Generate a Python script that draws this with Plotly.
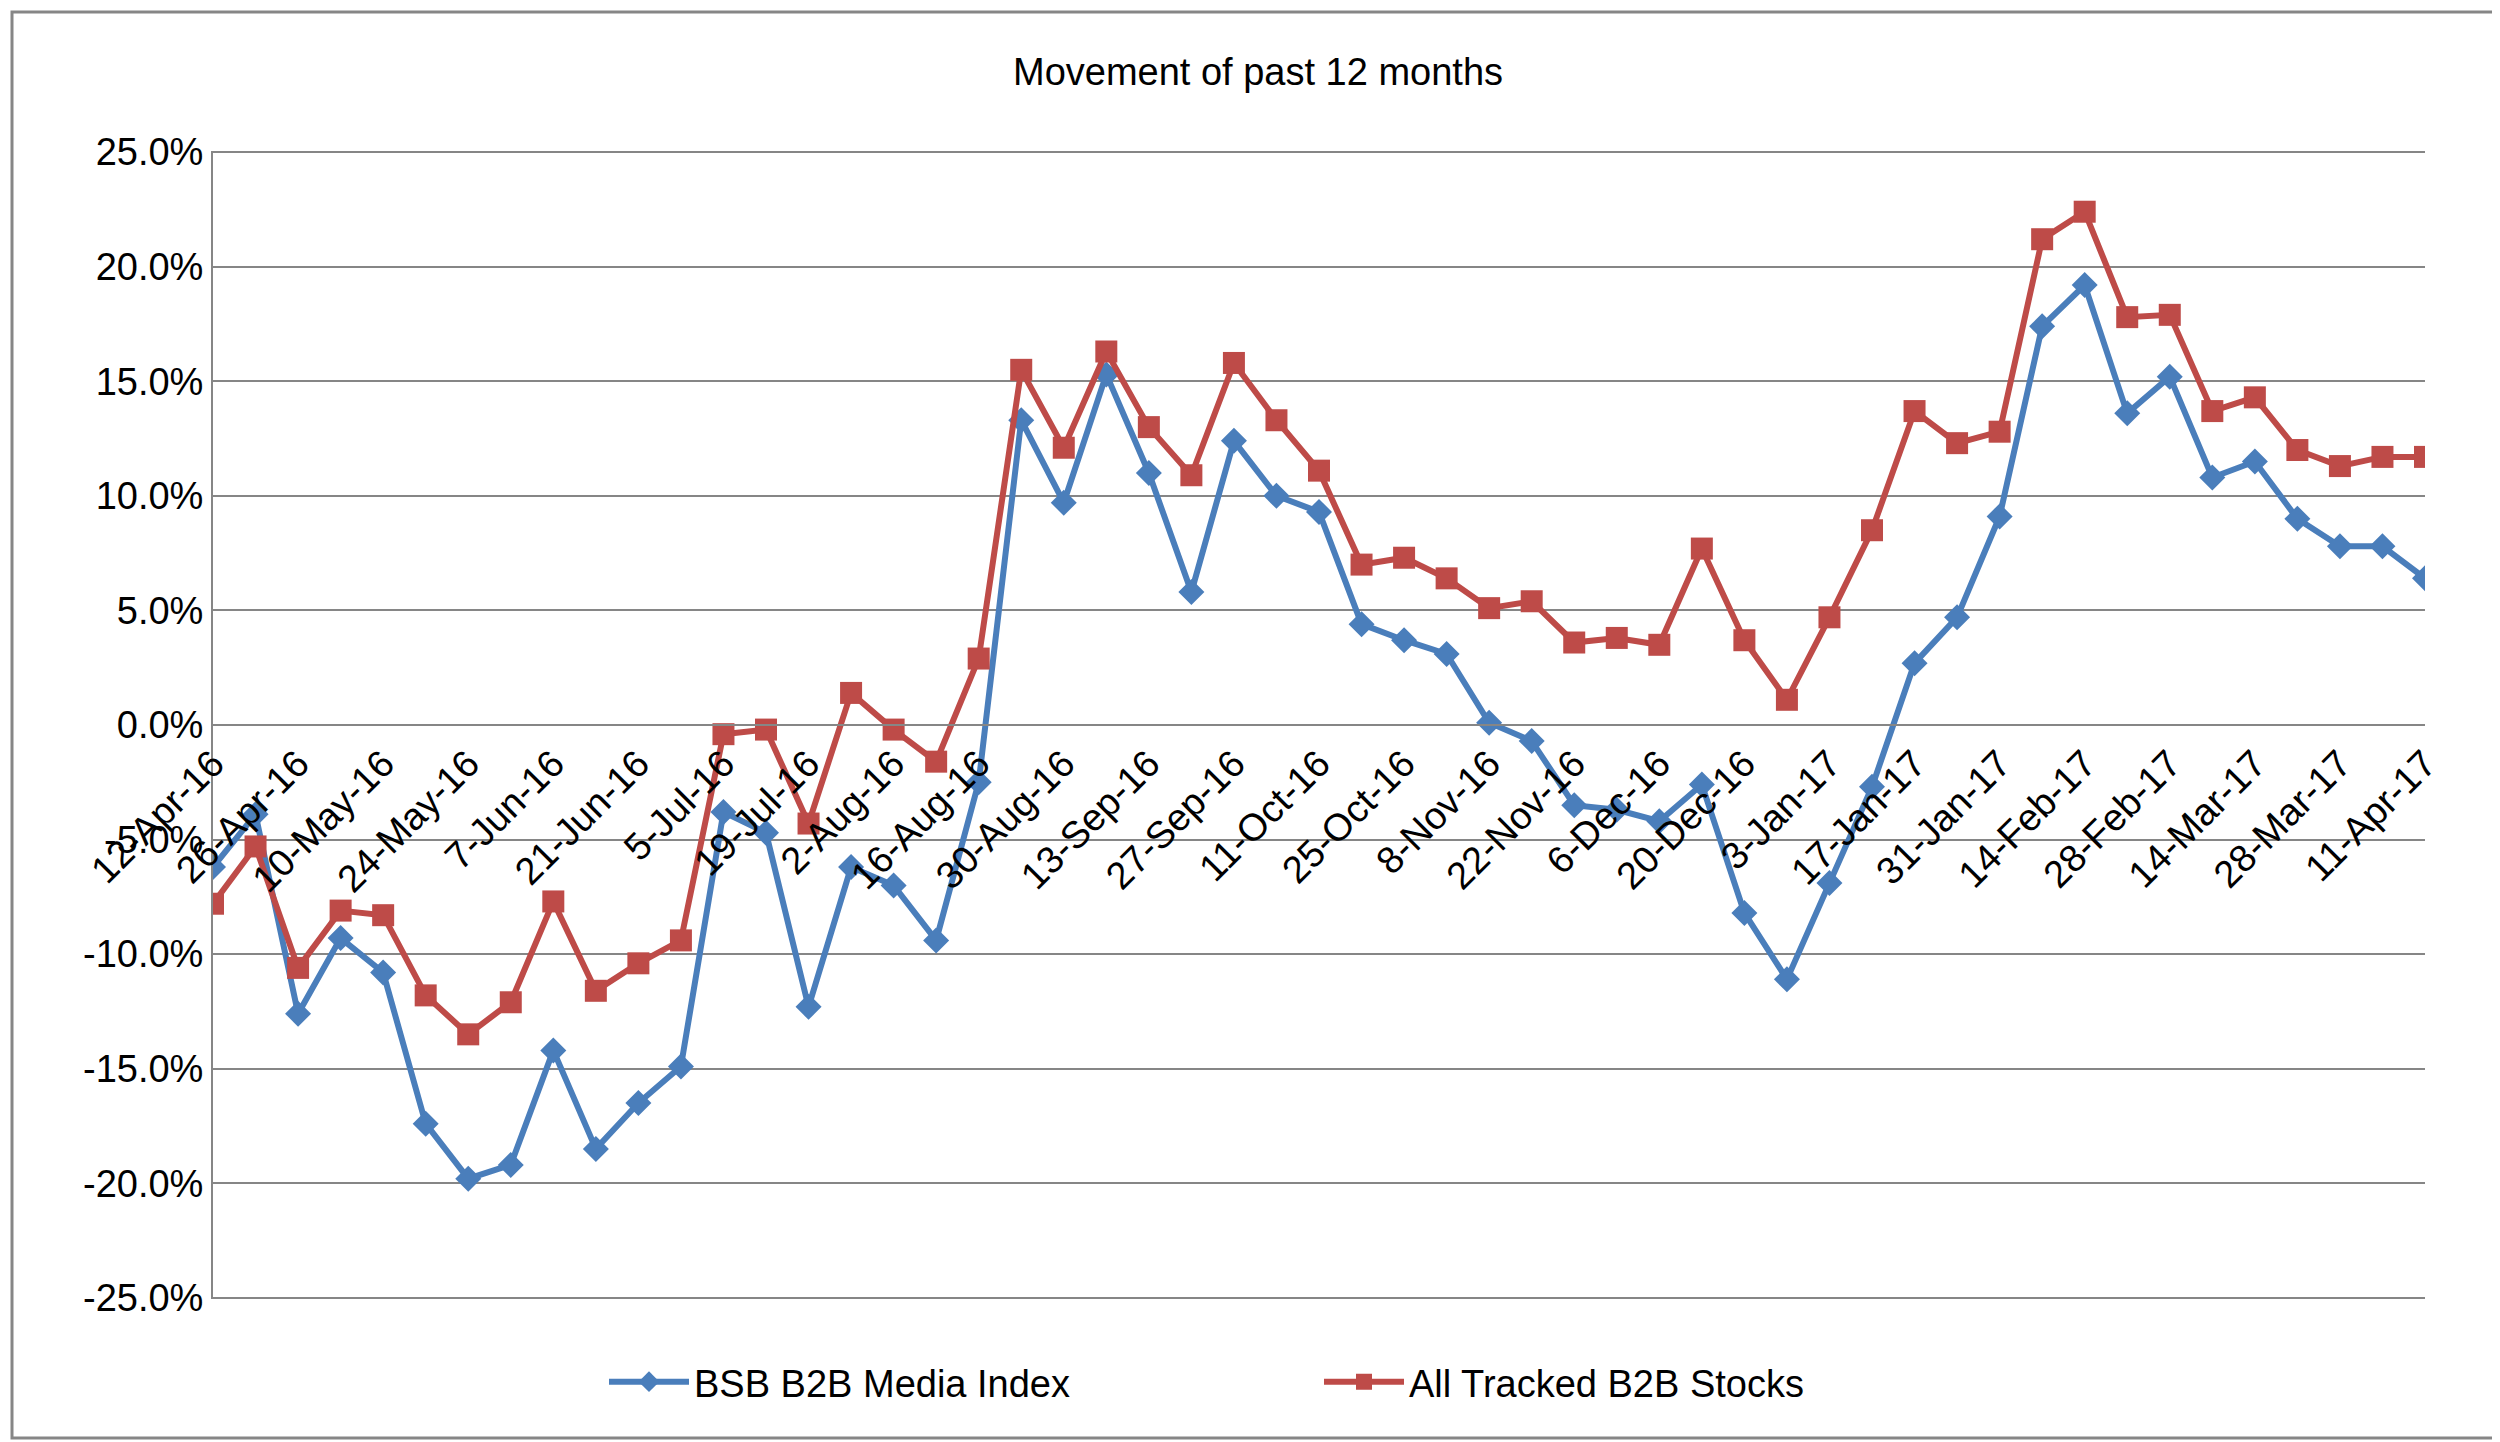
import plotly.graph_objects as go
import datetime as dt

start = dt.date(2016, 4, 12)
dates = [start + dt.timedelta(weeks=i) for i in range(53)]
labels = [f"{d.day}-{d.strftime('%b')}-{d.strftime('%y')}" for d in dates]

bsb = [-6.2,-3.9,-12.6,-9.3,-10.8,-17.4,-19.8,-19.2,-14.2,-18.5,-16.5,-14.9,-3.8,-4.7,-12.3,-6.2,-7.0,-9.4,-2.5,
       13.3,9.7,15.3,11.0,5.8,12.4,10.0,9.3,4.4,3.7,3.1,0.1,-0.7,-3.5,-3.7,-4.2,-2.6,-8.2,-11.1,-6.9,-2.7,2.7,4.7,9.1,
       17.4,19.2,13.6,15.2,10.8,11.5,9.0,7.8,7.8,6.4]
allb = [-7.8,-5.3,-10.6,-8.1,-8.3,-11.8,-13.5,-12.1,-7.7,-11.6,-10.4,-9.4,-0.4,-0.2,-4.3,1.4,-0.2,-1.6,2.9,
        15.5,12.1,16.3,13.0,10.9,15.8,13.3,11.1,7.0,7.3,6.4,5.1,5.4,3.6,3.8,3.5,7.7,3.7,1.1,4.7,8.5,13.7,12.3,12.8,
        21.2,22.4,17.8,17.9,13.7,14.3,12.0,11.3,11.7,11.7]
bsb = [v/100 for v in bsb]
allb = [v/100 for v in allb]
xs = list(range(53))
yticks = [v/100 for v in range(-25, 30, 5)]
ytext = [f"{v*100:.1f}%" for v in yticks]

fig = go.Figure()
fig.add_trace(go.Scatter(x=xs, y=bsb, name="BSB B2B Media Index", mode="lines+markers",
    line=dict(color="#4A7EBB", width=6), marker=dict(symbol="diamond", size=20, color="#4A7EBB")))
fig.add_trace(go.Scatter(x=xs, y=allb, name="All Tracked B2B Stocks", mode="lines+markers",
    line=dict(color="#BE4B48", width=6), marker=dict(symbol="square", size=22, color="#BE4B48")))

L, R, T, B = 205, 83, 143, 151
W, H = 2500, 1442
fig.update_layout(
    width=W, height=H, margin=dict(l=L, r=R, t=T, b=B),
    paper_bgcolor="white", plot_bgcolor="white",
    font=dict(family="Liberation Sans, Arial", size=38, color="black"),
    title=dict(text="Movement of past 12 months", x=0.5, xanchor="center", y=1-64/H, yanchor="middle",
               font=dict(size=38)),
    xaxis=dict(range=[0, 52], tickvals=xs[::2], ticktext=labels[::2], tickangle=-45,
               anchor="free", position=0.5, showgrid=False, showline=True, linecolor="#868686",
               linewidth=2, ticks="", zeroline=False, tickfont=dict(size=38)),
    yaxis=dict(range=[-0.2505, 0.2505], tickvals=yticks, ticktext=ytext, showgrid=True, gridcolor="#868686",
               gridwidth=2, zeroline=False, showline=True, linecolor="#868686", linewidth=2, ticks="",
               tickfont=dict(size=38)),
    legend=dict(orientation="h", x=0.5, xanchor="center", y=-(1374-1291)/(H-T-B), yanchor="middle",
                font=dict(size=38), itemwidth=80, entrywidth=620),
    shapes=[dict(type="rect", xref="paper", yref="paper",
                 x0=-(L-4)/(W-L-R), x1=1+(R-12)/(W-L-R),
                 y0=-(B-12)/(H-T-B), y1=1+(T-4)/(H-T-B),
                 line=dict(color="#868686", width=3))]
)
fig.write_html("out.html")
